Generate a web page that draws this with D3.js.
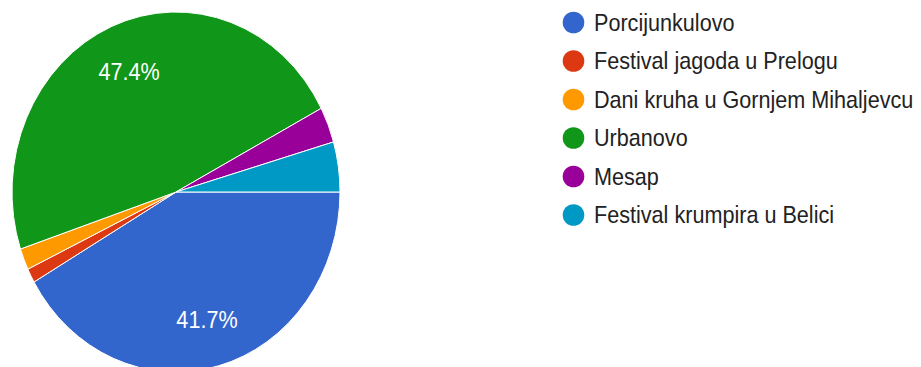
<!DOCTYPE html>
<html>
<head>
<meta charset="utf-8">
<script src="https://cdn.jsdelivr.net/npm/d3@7"></script>
<style>
  html, body { margin: 0; padding: 0; background: #fff; }
  svg { display: block; }
  text { font-family: "Liberation Sans", Arial, sans-serif; }
</style>
</head>
<body>
<svg id="chart" width="921" height="367"></svg>
<script>
// Responses per festival (156 in total)
const categories = [
  "Porcijunkulovo",
  "Festival jagoda u Prelogu",
  "Dani kruha u Gornjem Mihaljevcu",
  "Urbanovo",
  "Mesap",
  "Festival krumpira u Belici"
];
const counts = [65, 2, 3, 74, 5, 7];
const colors = ["#3366cc", "#dc3912", "#ff9900", "#109618", "#990099", "#0099c6"];

const svg = d3.select("#chart");

// pie geometry (slightly taller than wide)
const cx = 176, cy = 192, r = 164, sy = 180 / 164;
const textScaleX = 0.9;

const data = categories.map((name, i) => ({ name, value: counts[i], color: colors[i] }));
const total = d3.sum(counts);

const pie = d3.pie()
  .value(d => d.value)
  .sort(null)
  .startAngle(Math.PI / 2)
  .endAngle(Math.PI / 2 + 2 * Math.PI);

const arcs = pie(data);
const arc = d3.arc().innerRadius(0).outerRadius(r);
const labelArc = d3.arc().innerRadius(r * 0.73).outerRadius(r * 0.73);

const gPie = svg.append("g")
  .attr("transform", `translate(${cx},${cy}) scale(1,${sy})`);

gPie.selectAll("path")
  .data(arcs)
  .join("path")
  .attr("d", arc)
  .attr("fill", d => d.data.color)
  .attr("stroke", "#fff")
  .attr("stroke-width", 1)
  .attr("vector-effect", "non-scaling-stroke");

// percentage labels on the large slices
const fmt = d3.format(".1f");
svg.append("g")
  .selectAll("text")
  .data(arcs.filter(d => d.data.value / total > 0.1))
  .join("text")
  .attr("transform", d => {
    const c = labelArc.centroid(d);
    return `translate(${cx + c[0]},${cy + c[1] * sy}) scale(${textScaleX},1)`;
  })
  .attr("text-anchor", "middle")
  .attr("dy", "0.36em")
  .attr("fill", "#fff")
  .attr("font-size", 24)
  .text(d => fmt(d.data.value / total * 100) + "%");

// legend
const legX = 573.5, legY0 = 22.5, legStep = 38.5;
const leg = svg.append("g")
  .selectAll("g")
  .data(data)
  .join("g")
  .attr("transform", (d, i) => `translate(${legX},${legY0 + i * legStep})`);

leg.append("circle")
  .attr("r", 10.8)
  .attr("fill", d => d.color);

leg.append("text")
  .attr("transform", `translate(20.5,8.3) scale(${textScaleX},1)`)
  .attr("fill", "#222")
  .attr("font-size", 24)
  .text(d => d.name);
</script>
</body>
</html>
